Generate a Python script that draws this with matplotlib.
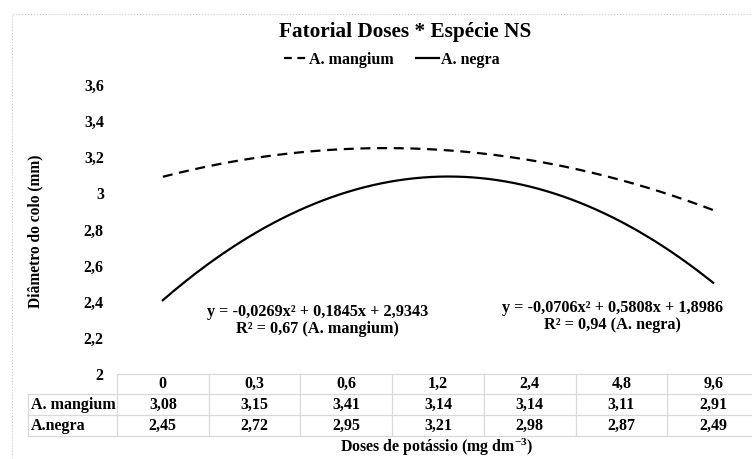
import numpy as np
import matplotlib.pyplot as plt
from matplotlib.lines import Line2D
from matplotlib.patches import Rectangle

plt.rcParams['font.family'] = ['Liberation Serif', 'DejaVu Serif']
plt.rcParams['font.weight'] = 'bold'
plt.rcParams['mathtext.fontset'] = 'custom'
plt.rcParams['mathtext.rm'] = 'Liberation Serif:bold'
plt.rcParams['mathtext.it'] = 'Liberation Serif:bold'
plt.rcParams['mathtext.bf'] = 'Liberation Serif:bold'

# dados
doses = ['0', '0,3', '0,6', '1,2', '2,4', '4,8', '9,6']
mangium = [3.08, 3.15, 3.41, 3.14, 3.14, 3.11, 2.91]
negra = [2.45, 2.72, 2.95, 3.21, 2.98, 2.87, 2.49]
eq_mangium = 'y = -0,0269x² + 0,1845x + 2,9343\nR² = 0,67 (A. mangium)'
eq_negra = 'y = -0,0706x² + 0,5808x + 1,8986\nR² = 0,94 (A. negra)'
yticks = [2.0, 2.2, 2.4, 2.6, 2.8, 3.0, 3.2, 3.4, 3.6]

W, H = 752, 459
fig = plt.figure(figsize=(W / 100, H / 100), dpi=100)

def fx(px):
    return px / W

def fy(py):
    return 1 - py / H

# borda do grafico (pontilhada)
fig.patches.append(Rectangle((fx(12), fy(470)), fx(760), fy(14) - fy(470),
                             transform=fig.transFigure, fill=False,
                             edgecolor='#c8c8c8', lw=0.8, linestyle=':'))

left, right, top, bottom = 117, 759, 85, 374
ax = fig.add_axes([fx(left), fy(bottom), fx(right - left), fy(top) - fy(bottom)])
ax.set_xlim(0.5, 7.5)
ax.set_ylim(2, 3.6)
for s in ax.spines.values():
    s.set_visible(False)
ax.set_xticks([])
ax.set_yticks(yticks)
ax.set_yticklabels([('%g' % v).replace('.', ',') for v in yticks], fontsize=11.5, fontweight='bold')
ax.tick_params(axis='y', length=0, pad=9.5)
ax.patch.set_alpha(0)

# linhas de tendencia polinomiais (ordem 2)
x = np.arange(1, 8)
xs = np.linspace(1, 7, 200)
pm = np.polyfit(x, mangium, 2)
pn = np.polyfit(x, negra, 2)
ax.plot(xs, np.polyval(pm, xs), color='black', lw=1.6, dashes=(4.5, 3))
ax.plot(xs, np.polyval(pn, xs), color='black', lw=1.6)

ax.text(2.69, 2.297, eq_mangium, ha='center', va='center', fontsize=11.7,
        fontweight='bold', linespacing=1.1)
ax.text(5.9, 2.319, eq_negra, ha='center', va='center', fontsize=11.7,
        fontweight='bold', linespacing=1.1)

# titulo e legenda
fig.text(fx(405), fy(32), 'Fatorial Doses * Espécie NS', ha='center', va='center',
         fontsize=15.3, fontweight='bold')
handles = [Line2D([], [], color='black', lw=1.6, dashes=(3.5, 2.5)),
           Line2D([], [], color='black', lw=1.6)]
fig.legend(handles, ['A. mangium', 'A. negra'], loc='center', bbox_to_anchor=(fx(392), fy(60)),
           ncol=2, frameon=False, handlelength=1.45, handletextpad=0.1,
           columnspacing=1.4, prop={'weight': 'bold', 'size': 11.5})

fig.text(fx(35), fy(231), 'Diâmetro do colo (mm)', rotation=90, ha='center', va='center',
         fontsize=11.2, fontweight='bold')

# tabela de dados
colw = (right - left) / len(doses)
rows_y = [374, 394, 415, 436]
grid = '#d9d9d9'
for i, yy in enumerate(rows_y):
    x0 = left if i == 0 else 28
    fig.add_artist(Line2D([fx(x0), fx(right)], [fy(yy), fy(yy)], color=grid, lw=0.9))
for k in range(len(doses) + 1):
    xx = left + k * colw
    fig.add_artist(Line2D([fx(xx), fx(xx)], [fy(374), fy(436)], color=grid, lw=0.9))
fig.add_artist(Line2D([fx(28), fx(28)], [fy(394), fy(436)], color=grid, lw=0.9))

for k, d in enumerate(doses):
    cx = fx(left + (k + 0.5) * colw)
    fig.text(cx, fy(384), d, ha='center', va='center', fontsize=11.5, fontweight='bold')
    fig.text(cx, fy(405), ('%.2f' % mangium[k]).replace('.', ','), ha='center', va='center',
             fontsize=11.5, fontweight='bold')
    fig.text(cx, fy(425.5), ('%.2f' % negra[k]).replace('.', ','), ha='center', va='center',
             fontsize=11.5, fontweight='bold')
fig.text(fx(31), fy(405), 'A. mangium', ha='left', va='center', fontsize=11.5, fontweight='bold')
fig.text(fx(31), fy(425.5), 'A.negra', ha='left', va='center', fontsize=11.5, fontweight='bold')

fig.text(fx(437), fy(447), r'Doses de potássio (mg dm$^{\!-\!3}$)', ha='center', va='center',
         fontsize=11.4, fontweight='bold')

fig.savefig('out.png', dpi=100)
